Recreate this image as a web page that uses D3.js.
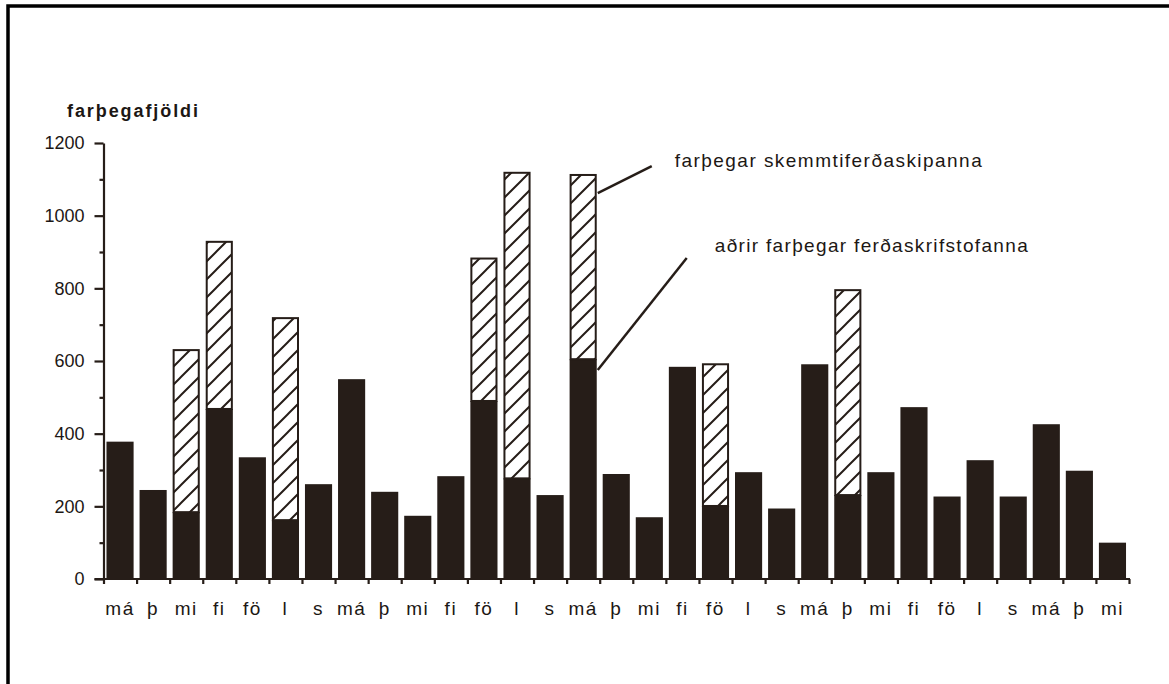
<!DOCTYPE html>
<html>
<head>
<meta charset="utf-8">
<script src="https://cdn.jsdelivr.net/npm/d3@7/dist/d3.min.js"></script>
<style>
  html, body { margin: 0; padding: 0; background: #fff; }
  svg { display: block; font-family: "Liberation Sans", Arial, Helvetica, sans-serif; }
</style>
</head>
<body>
<svg id="chart" width="1169" height="684"></svg>
<script>
// dagar vikunnar (frá mánudegi)
var days = ["má", "þ", "mi", "fi", "fö", "l", "s",
  "má", "þ", "mi", "fi", "fö", "l", "s",
  "má", "þ", "mi", "fi", "fö", "l", "s",
  "má", "þ", "mi", "fi", "fö", "l", "s",
  "má", "þ", "mi"];

// aðrir farþegar ferðaskrifstofanna (svartar súlur)
var otherPassengers = [378, 245, 184, 468, 335, 162, 261,
  550, 240, 174, 283, 490, 277, 231,
  605, 289, 170, 584, 201, 294, 194,
  591, 231, 294, 473, 227, 327, 227,
  426, 298, 100];

// farþegar skemmtiferðaskipanna (skástrikaðar súlur)
var cruisePassengers = [0, 0, 446, 460, 0, 556, 0,
  0, 0, 0, 0, 392, 841, 0,
  507, 0, 0, 0, 390, 0, 0,
  0, 564, 0, 0, 0, 0, 0,
  0, 0, 0];

var yTicks = [0, 200, 400, 600, 800, 1000, 1200];
var yMinorTicks = [100, 300, 500, 700, 900, 1100];

var yTitle = "farþegafjöldi",
  cruiseLabel = "farþegar skemmtiferðaskipanna",
  otherLabel = "aðrir farþegar ferðaskrifstofanna";

(function() {
var ink = "#261d18",
  textInk = "#1c1714",
  svg = d3.select("#chart"),
  plotLeft = 103.5, plotRight = 1129, plotTop = 143, plotBottom = 579;

var x = d3.scaleBand()
    .domain(d3.range(days.length))
    .range([plotLeft, plotRight])
    .paddingInner(0.18)
    .paddingOuter(0.09),
  xEdge = d3.scaleLinear()
    .domain([0, days.length])
    .range([plotLeft, plotRight]),
  y = d3.scaleLinear()
    .domain([0, 1200])
    .range([plotBottom, plotTop]);

var defs = svg.append("defs");
defs.append("pattern")
  .attr("id", "hatch")
  .attr("patternUnits", "userSpaceOnUse")
  .attr("width", 18)
  .attr("height", 18)
  .call(function(p) {
    p.append("rect").attr("width", 18).attr("height", 18).attr("fill", "#fff");
    p.append("path")
      .attr("d", "M-4.5,4.5 l9,-9 M0,18 l18,-18 M13.5,22.5 l9,-9")
      .attr("stroke", ink)
      .attr("stroke-width", 2);
  });

// frame of the scanned page
svg.append("path")
  .attr("d", "M8,684 V6 H1169")
  .attr("fill", "none")
  .attr("stroke", "#000")
  .attr("stroke-width", 3.5);

// bars
var bars = svg.append("g").attr("class", "bars")
  .selectAll("g")
  .data(days.map(function(d, i) {
    return { day: d, other: otherPassengers[i], cruise: cruisePassengers[i], i: i };
  }))
  .enter()
  .append("g");

bars.append("rect")
  .attr("x", function(d) { return x(d.i); })
  .attr("width", x.bandwidth())
  .attr("y", function(d) { return y(d.other); })
  .attr("height", function(d) { return y(0) - y(d.other); })
  .attr("fill", ink);

bars.filter(function(d) { return d.cruise > 0; })
  .append("rect")
  .attr("x", function(d) { return x(d.i) + 1; })
  .attr("width", x.bandwidth() - 2)
  .attr("y", function(d) { return y(d.other + d.cruise); })
  .attr("height", function(d) { return y(d.other) - y(d.other + d.cruise); })
  .attr("fill", "url(#hatch)")
  .attr("stroke", ink)
  .attr("stroke-width", 2);

// y axis
var yAxis = svg.append("g")
  .attr("transform", "translate(" + plotLeft + ",0)")
  .call(d3.axisLeft(y).tickValues(yTicks).tickFormat(d3.format("d"))
    .tickSize(9).tickPadding(10).tickSizeOuter(0));
svg.append("g")
  .attr("transform", "translate(" + plotLeft + ",0)")
  .call(d3.axisLeft(y).tickValues(yMinorTicks).tickSize(4).tickFormat("").tickSizeOuter(0))
  .select(".domain").remove();

// x axis: ticks at the day boundaries, labels under the bars
var xAxis = svg.append("g")
  .attr("transform", "translate(0," + plotBottom + ")")
  .call(d3.axisBottom(xEdge).tickValues(d3.range(days.length + 1)).tickSize(5).tickFormat("").tickSizeOuter(0));
xAxis.select(".domain").attr("d", "M" + (plotLeft - 9) + ",0H" + (plotRight + 1));

var xLabels = svg.append("g")
  .attr("transform", "translate(0," + plotBottom + ")")
  .call(d3.axisBottom(x).tickFormat(function(i) { return days[i]; }).tickSize(0).tickPadding(23));
xLabels.select(".domain").remove();

svg.selectAll(".domain, .tick line")
  .attr("stroke", ink)
  .attr("stroke-width", 2.2);

yAxis.selectAll("text")
  .attr("font-size", 18)
  .attr("fill", textInk)
  .attr("font-family", null);
xLabels.selectAll("text")
  .attr("font-size", 19)
  .attr("letter-spacing", 1.5)
  .attr("fill", textInk)
  .attr("font-family", null);

// axis title
svg.append("text")
  .attr("x", 67)
  .attr("y", 117)
  .attr("font-size", 18)
  .attr("font-weight", "bold")
  .attr("textLength", 131)
  .attr("lengthAdjust", "spacing")
  .attr("fill", textInk)
  .text(yTitle);

// annotations pointing at the monday bar in week three
var ann = x(14) + x.bandwidth() + 1;

svg.append("line")
  .attr("x1", ann).attr("y1", y(1062))
  .attr("x2", ann + 54).attr("y2", y(1062) - 27)
  .attr("stroke", ink).attr("stroke-width", 2.5);
svg.append("line")
  .attr("x1", ann).attr("y1", y(575))
  .attr("x2", ann + 89).attr("y2", y(575) - 112)
  .attr("stroke", ink).attr("stroke-width", 2.5);

svg.append("text")
  .attr("x", ann + 77)
  .attr("y", y(1062) - 26)
  .attr("font-size", 19)
  .attr("textLength", 307)
  .attr("lengthAdjust", "spacing")
  .attr("fill", textInk)
  .text(cruiseLabel);

svg.append("text")
  .attr("x", ann + 117)
  .attr("y", y(575) - 118)
  .attr("font-size", 19)
  .attr("textLength", 313)
  .attr("lengthAdjust", "spacing")
  .attr("fill", textInk)
  .text(otherLabel);
})();
</script>
</body>
</html>
